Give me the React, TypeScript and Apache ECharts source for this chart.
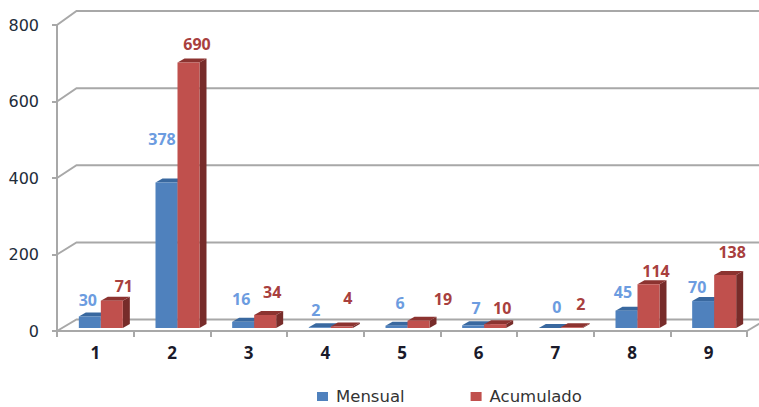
import React, { useEffect, useRef } from "react";
import * as echarts from "echarts";

const categories = ["1", "2", "3", "4", "5", "6", "7", "8", "9"];
const mensual = [30, 378, 16, 2, 6, 7, 0, 45, 70];
const acumulado = [71, 690, 34, 4, 19, 10, 2, 114, 138];
const yTicks = [0, 200, 400, 600, 800];

// Hand-placed data label offsets in pixels, relative to each bar's top centre.
const mensualLabelDx = [-2, -4.5, -2, -4, 3.5, 3, 7, -3.5, -6];
const mensualLabelDy = [-16, -44, -23, -17, -23, -17, -21, -19, -14];
const acumuladoLabelDx = [12, 8.5, 7, 6, 24.5, 7, 9, 7.5, 7];
const acumuladoLabelDy = [-15, -18, -23, -28, -22, -16, -23, -13, -23];

const WALL_DX = 19.5;
const WALL_DY_BASE = -11.5;
const WALL_DY_RISE = -2.5;
const BAR_DX = 7;
const BAR_DY = -4;
const BASE_LIFT = 3;
const BAR_W = 22;
const BAR_SCALE = 1.006;
const GROUP_SHIFT = 5.5;
const LINE = "#a8a8a8";

function barSeries(
  name: string,
  values: number[],
  side: -1 | 1,
  colors: { front: string; top: string; side: string; label: string },
  ldx: number[],
  ldy: number[],
) {
  return {
    type: "custom",
    name,
    itemStyle: { color: colors.front },
    encode: { x: 0, y: 1 },
    data: values.map((v, i) => [i, v]),
    z: 3,
    renderItem: (params: any, api: any) => {
      const i = api.value(0);
      const [cx, top0] = api.coord([i, api.value(1)]);
      const [, base0] = api.coord([i, 0]);
      const base = base0 - BASE_LIFT;
      const top = base - (base0 - top0) * BAR_SCALE;
      const x0 = cx + GROUP_SHIFT + (side < 0 ? -BAR_W : 0);
      const x1 = x0 + BAR_W;
      const children: any[] = [
        {
          type: "polygon",
          shape: { points: [[x1, base], [x1 + BAR_DX, base + BAR_DY], [x1 + BAR_DX, top + BAR_DY], [x1, top]] },
          style: { fill: colors.side },
        },
        {
          type: "polygon",
          shape: { points: [[x0, top], [x1, top], [x1 + BAR_DX, top + BAR_DY], [x0 + BAR_DX, top + BAR_DY]] },
          style: { fill: colors.top },
        },
        {
          type: "rect",
          shape: { x: x0, y: top, width: BAR_W, height: Math.max(base - top, 0) },
          style: { fill: colors.front },
        },
        {
          type: "text",
          x: x0 + BAR_W / 2 + ldx[params.dataIndex],
          y: top + ldy[params.dataIndex],
          style: {
            text: String(api.value(1)),
            fill: colors.label,
            font: 'bold 16px "Open Sans"',
            align: "center",
            verticalAlign: "middle",
          },
        },
      ];
      return { type: "group", children };
    },
  };
}

export default function App() {
  const ref = useRef<HTMLDivElement>(null);
  useEffect(() => {
    const chart = echarts.init(ref.current!, undefined, { renderer: "svg" });
    chart.setOption({
      animation: false,
      backgroundColor: "#ffffff",
      grid: { left: 57, right: 12, top: 25, bottom: 76 },
      legend: {
        data: ["Mensual", "Acumulado"],
        left: 312,
        top: 383,
        icon: "rect",
        itemWidth: 11,
        itemHeight: 9,
        itemGap: 66,
        textStyle: { fontFamily: "DejaVu Sans", fontSize: 16.5, color: "#333333", padding: [0, 0, 0, 3] },
      },
      xAxis: {
        type: "category",
        data: categories,
        boundaryGap: true,
        axisLine: { lineStyle: { color: LINE, width: 2 } },
        axisTick: { show: true, length: 6, lineStyle: { color: LINE, width: 2 } },
        axisLabel: {
          margin: 13,
          fontFamily: "Open Sans",
          fontWeight: "bold",
          fontSize: 17,
          color: "#1a1a2a",
        },
      },
      yAxis: {
        type: "value",
        min: 0,
        max: 800,
        interval: 200,
        splitLine: { show: false },
        axisLine: { show: true, lineStyle: { color: LINE, width: 2 } },
        axisTick: { show: true, length: 5, lineStyle: { color: LINE, width: 2 } },
        axisLabel: { margin: 18, fontFamily: "DejaVu Sans", fontSize: 16, color: "#222c3a" },
      },
      series: [
        {
          type: "custom",
          name: "wall",
          silent: true,
          z: 1,
          encode: { x: 0, y: 1 },
          data: yTicks.map((t) => [0, t]),
          renderItem: (params: any, api: any) => {
            const v = api.value(1);
            const [, y] = api.coord([0, v]);
            const left = params.coordSys.x;
            const right = params.coordSys.x + params.coordSys.width;
            const dy = WALL_DY_BASE + (WALL_DY_RISE * v) / yTicks[yTicks.length - 1];
            return {
              type: "polyline",
              shape: {
                points: [
                  [left, y],
                  [left + WALL_DX, y + dy],
                  [right + WALL_DX, y + dy],
                ],
              },
              style: { stroke: LINE, lineWidth: 2, fill: "none" },
            };
          },
        },
        {
          type: "custom",
          name: "floor",
          silent: true,
          z: 1,
          encode: { x: 0, y: 1 },
          data: [[0, 0]],
          renderItem: (params: any, api: any) => {
            const [, y] = api.coord([0, 0]);
            const right = params.coordSys.x + params.coordSys.width;
            return {
              type: "line",
              shape: { x1: right, y1: y, x2: right + WALL_DX, y2: y + WALL_DY_BASE },
              style: { stroke: LINE, lineWidth: 2 },
            };
          },
        },
        barSeries("Mensual", mensual, -1, { front: "#4f81bd", top: "#39689f", side: "#385d8a", label: "#6c9ce0" }, mensualLabelDx, mensualLabelDy),
        barSeries("Acumulado", acumulado, 1, { front: "#c0504d", top: "#8c3330", side: "#772c2a", label: "#a8403e" }, acumuladoLabelDx, acumuladoLabelDy),
      ],
    });
    return () => chart.dispose();
  }, []);
  return <div ref={ref} style={{ position: "absolute", left: 0, top: 0, width: 759, height: 407 }} />;
}
